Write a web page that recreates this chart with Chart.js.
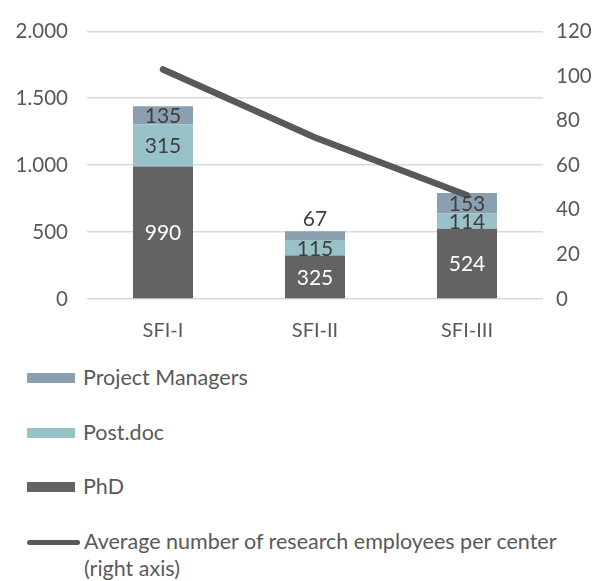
<!DOCTYPE html>
<html>
<head>
<meta charset="utf-8">
<script src="https://cdn.jsdelivr.net/npm/chart.js@4.4.1/dist/chart.umd.min.js"></script>
<style>
  html, body { margin: 0; padding: 0; background: #fff; }
  body { width: 605px; height: 581px; overflow: hidden; font-family: Lato, "Open Sans", sans-serif; }
  .chart-box { position: relative; width: 605px; height: 345px; }
  .legend { list-style: none; margin: 0; padding: 0; position: absolute; left: 27px; top: 364px; color: #595959; font-size: 21.5px; }
  .legend li { display: flex; align-items: flex-start; height: 54.5px; line-height: 27px; }
  .legend .swatch { flex: 0 0 48px; height: 10px; margin: 9px 8px 0 0; }
  .legend .swatch.line { flex-basis: 53px; height: 5px; margin-top: 12px; margin-right: 4px; border-radius: 3px; }
  .legend .text { max-width: 500px; }
</style>
</head>
<body>
<div class="chart-box"><canvas class="js-chart" width="605" height="345"></canvas></div>
<ul class="legend js-legend"></ul>
<script>
const categories = ['SFI-I', 'SFI-II', 'SFI-III'];
const phd = [990, 325, 524];
const postdoc = [315, 115, 114];
const projectManagers = [135, 67, 153];
const avgPerCenter = [102.9, 72.4, 46.5];

const leftTicks = [0, 500, 1000, 1500, 2000];
const rightTicks = [0, 20, 40, 60, 80, 100, 120];

const textColor = '#595959';
const fontFamily = 'Lato, "Open Sans", sans-serif';

const formatThousands = (v) => String(v).replace(/\B(?=(\d{3})+(?!\d))/g, '.');

// labels inside the bar segments
const segmentLabels = {
  id: 'segmentLabels',
  afterDatasetsDraw(chart) {
    const { ctx } = chart;
    ctx.save();
    ctx.font = `21px ${fontFamily}`;
    ctx.textAlign = 'center';
    chart.data.datasets.forEach((ds, i) => {
      if (ds.type === 'line') return;
      const meta = chart.getDatasetMeta(i);
      meta.data.forEach((bar, j) => {
        const h = bar.base - bar.y;
        ctx.fillStyle = ds.labelColor;
        if (h < 12) {
          ctx.textBaseline = 'bottom';
          ctx.fillText(ds.data[j], bar.x, bar.y - 1);
        } else {
          ctx.textBaseline = 'middle';
          ctx.fillText(ds.data[j], bar.x, (bar.y + bar.base) / 2 + 1);
        }
      });
    });
    ctx.restore();
  },
};

const chartElem = document.querySelector('.js-chart').getContext('2d');

const chart = new Chart(chartElem, {
  data: {
    labels: categories,
    datasets: [
      {
        type: 'line',
        label: 'Average number of research employees per center (right axis)',
        data: avgPerCenter,
        yAxisID: 'y1',
        borderColor: '#595959',
        borderWidth: 6.5,
        pointRadius: 0,
        borderCapStyle: 'round',
        order: 0,
      },
      {
        type: 'bar',
        label: 'PhD',
        data: phd,
        backgroundColor: '#636363',
        labelColor: '#ffffff',
        order: 1,
      },
      {
        type: 'bar',
        label: 'Post.doc',
        data: postdoc,
        backgroundColor: '#98c2c8',
        labelColor: '#404040',
        order: 1,
      },
      {
        type: 'bar',
        label: 'Project Managers',
        data: projectManagers,
        backgroundColor: '#8a9fb0',
        labelColor: '#404040',
        order: 1,
      },
    ],
  },
  options: {
    responsive: false,
    animation: false,
    layout: { padding: { top: 27, bottom: 0, left: 0, right: 0 } },
    datasets: {
      bar: { categoryPercentage: 1, barPercentage: 0.395 },
    },
    plugins: {
      legend: { display: false },
      tooltip: { enabled: false },
    },
    scales: {
      x: {
        stacked: true,
        grid: { display: false },
        border: { display: false },
        ticks: { color: textColor, font: { family: fontFamily, size: 20 }, padding: 12 },
        afterFit(scale) { scale.height = 46; },
      },
      y: {
        stacked: true,
        position: 'left',
        min: 0,
        max: 2000,
        afterBuildTicks(scale) { scale.ticks = leftTicks.map((value) => ({ value })); },
        ticks: {
          color: textColor,
          font: { family: fontFamily, size: 20.5 },
          padding: 19,
          callback: (v) => formatThousands(v),
        },
        grid: { color: '#d9d9d9', lineWidth: 1.5, drawTicks: false },
        border: { display: false },
        afterFit(scale) { scale.width = 87; },
      },
      y1: {
        position: 'right',
        min: 0,
        max: 120,
        afterBuildTicks(scale) { scale.ticks = rightTicks.map((value) => ({ value })); },
        ticks: { color: textColor, font: { family: fontFamily, size: 20.5 }, padding: 13 },
        grid: { display: false, drawTicks: false },
        border: { display: false },
        afterFit(scale) { scale.width = 62; },
      },
    },
  },
  plugins: [segmentLabels],
});

// html legend, built from the chart datasets (bars top-down, then the line)
const $legend = document.querySelector('.js-legend');
const legendOrder = [3, 2, 1, 0];
legendOrder.forEach((idx) => {
  const ds = chart.data.datasets[idx];
  const li = document.createElement('li');
  const swatch = document.createElement('span');
  swatch.className = ds.type === 'line' ? 'swatch line' : 'swatch';
  swatch.style.background = ds.type === 'line' ? ds.borderColor : ds.backgroundColor;
  const text = document.createElement('span');
  text.className = 'text';
  text.textContent = ds.label;
  li.appendChild(swatch);
  li.appendChild(text);
  $legend.appendChild(li);
});
</script>
</body>
</html>
